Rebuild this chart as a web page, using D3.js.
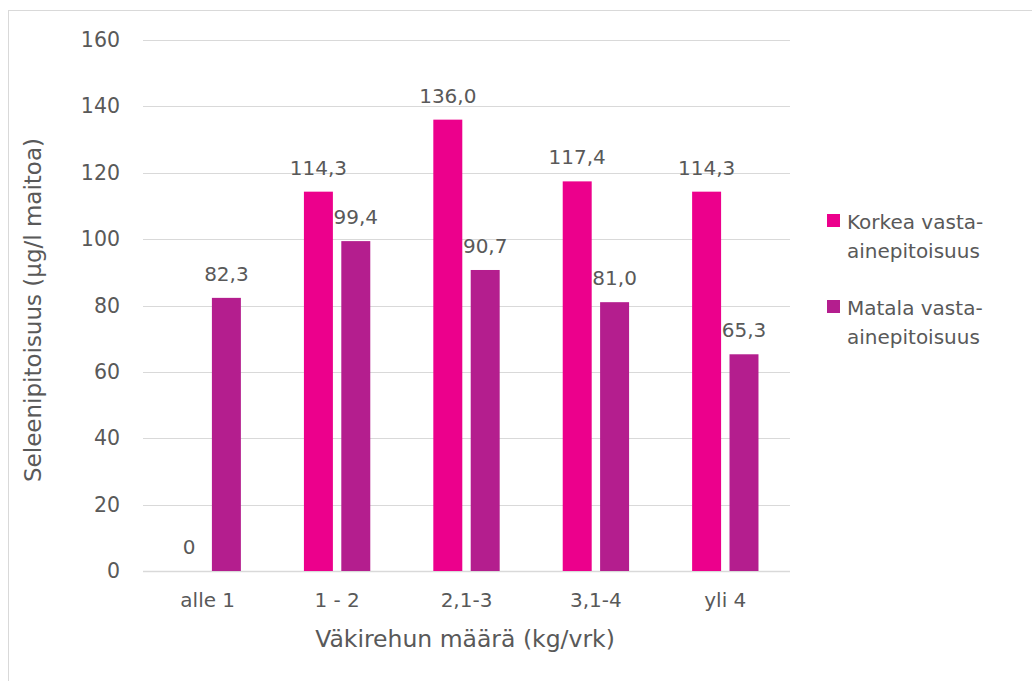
<!DOCTYPE html>
<html>
<head>
<meta charset="utf-8">
<script src="https://cdn.jsdelivr.net/npm/d3@7"></script>
<style>
  html, body { margin: 0; padding: 0; background: #fff; }
  svg { display: block; font-family: "DejaVu Sans", sans-serif; }
</style>
</head>
<body>
<svg id="chart" width="1032" height="681"></svg>
<script>
// Selenium content in milk by concentrate amount and antibody level
const categories = ["alle 1", "1 - 2", "2,1-3", "3,1-4", "yli 4"];
const seriesNames = ["Korkea vasta-ainepitoisuus", "Matala vasta-ainepitoisuus"];
const legendLines = [["Korkea vasta-", "ainepitoisuus"], ["Matala vasta-", "ainepitoisuus"]];
const korkea = [0, 114.3, 136.0, 117.4, 114.3];
const matala = [82.3, 99.4, 90.7, 81.0, 65.3];
const yTicks = [0, 20, 40, 60, 80, 100, 120, 140, 160];
const colors = ["#EC008C", "#B41E8E"];
const yTitle = "Seleenipitoisuus (µg/l maitoa)";
const xTitle = "Väkirehun määrä (kg/vrk)";

const series = [korkea, matala];
const textColor = "#595959";
const svg = d3.select("#chart");

// outer frame
svg.append("rect")
  .attr("x", 8.5).attr("y", 10.5)
  .attr("width", 1040).attr("height", 700)
  .attr("fill", "none").attr("stroke", "#d9d9d9").attr("stroke-width", 1);

const plot = { left: 143, right: 790, top: 40, bottom: 571 };

const x0 = d3.scaleBand().domain(categories).range([plot.left, plot.right]).padding(0);
const x1 = d3.scaleBand().domain(d3.range(series.length))
  .range([0, x0.bandwidth()]).paddingInner(0.225).paddingOuter(0.843);
const y = d3.scaleLinear().domain([0, 160]).range([plot.bottom, plot.top]);

// gridlines
svg.append("g").selectAll("line").data(yTicks).join("line")
  .attr("x1", plot.left).attr("x2", plot.right)
  .attr("y1", d => Math.round(y(d)) + 0.5).attr("y2", d => Math.round(y(d)) + 0.5)
  .attr("stroke", "#d9d9d9").attr("stroke-width", d => d === 0 ? 1.5 : 1);

// y axis labels
const yAxis = d3.axisLeft(y).tickValues(yTicks).tickSize(0).tickPadding(23);
const gy = svg.append("g").attr("transform", `translate(${plot.left},0)`).call(yAxis);
gy.select(".domain").remove();
gy.selectAll("text").attr("fill", textColor).attr("font-size", 20.5)
  .attr("font-family", "DejaVu Sans, sans-serif");

// x axis labels
const xAxis = d3.axisBottom(x0).tickSize(0).tickPadding(22);
const gx = svg.append("g").attr("transform", `translate(0,${plot.bottom})`).call(xAxis);
gx.select(".domain").remove();
gx.selectAll("text").attr("fill", textColor).attr("font-size", 20)
  .attr("font-family", "DejaVu Sans, sans-serif");

// bars
const fmt = v => d3.format(".1f")(v).replace(".", ",");
series.forEach((vals, si) => {
  const g = svg.append("g");
  g.selectAll("rect").data(vals).join("rect")
    .attr("x", (d, i) => x0(categories[i]) + x1(si))
    .attr("width", x1.bandwidth())
    .attr("y", d => y(d))
    .attr("height", d => y(0) - y(d))
    .attr("fill", colors[si]);
  g.selectAll("text").data(vals).join("text")
    .attr("x", (d, i) => x0(categories[i]) + x1(si) + x1.bandwidth() / 2)
    .attr("y", d => y(d) - 17)
    .attr("text-anchor", "middle")
    .attr("fill", textColor).attr("font-size", 20)
    .text(d => d === 0 ? "0" : fmt(d));
});

// axis titles
svg.append("text")
  .attr("transform", `translate(41,310) rotate(-90)`)
  .attr("text-anchor", "middle").attr("fill", textColor).attr("font-size", 23)
  .text(yTitle);
svg.append("text")
  .attr("x", 465).attr("y", 647)
  .attr("text-anchor", "middle").attr("fill", textColor).attr("font-size", 23.5)
  .text(xTitle);

// legend
const legend = svg.append("g");
const legendTop = [214, 300];
seriesNames.forEach((name, si) => {
  const lg = legend.append("g").attr("transform", `translate(827,${legendTop[si]})`);
  lg.append("rect").attr("width", 13).attr("height", 13).attr("fill", colors[si]);
  lg.append("text").attr("x", 20).attr("y", 15)
    .attr("fill", textColor).attr("font-size", 20)
    .selectAll("tspan").data(legendLines[si]).join("tspan")
    .attr("x", 20).attr("dy", (d, i) => i === 0 ? 0 : 29)
    .text(d => d);
});
</script>
</body>
</html>
